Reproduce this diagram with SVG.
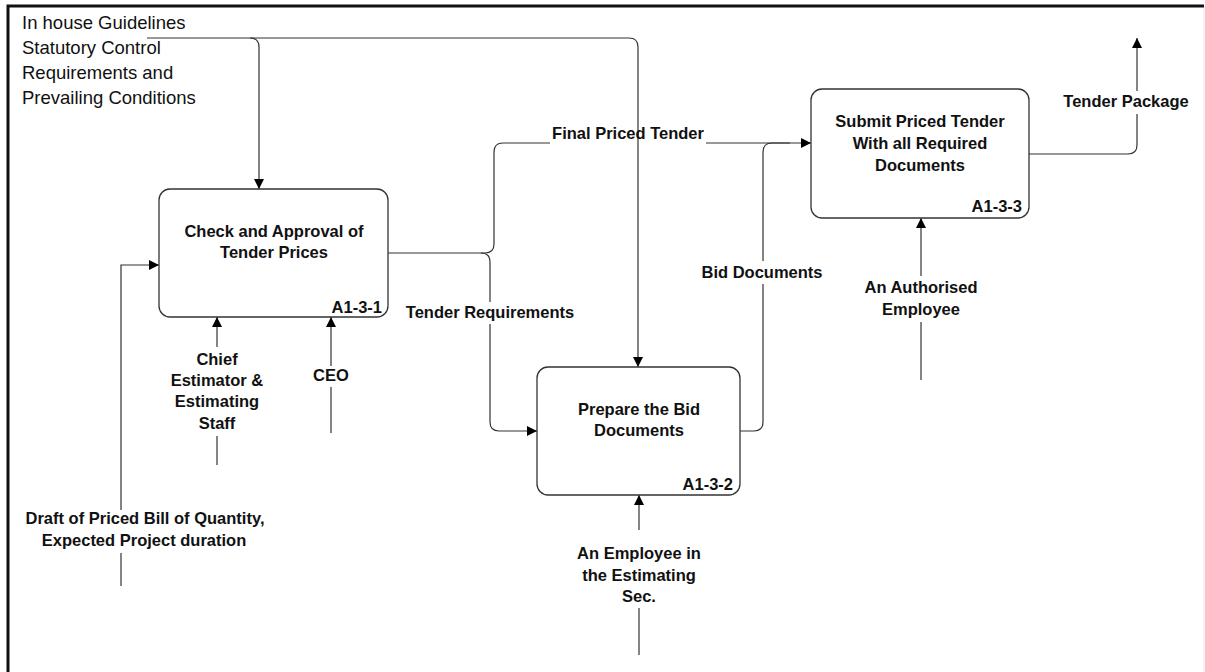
<svg xmlns="http://www.w3.org/2000/svg" width="1205" height="672" viewBox="0 0 1205 672">
<style>
.box{fill:#fff;stroke:#333;stroke-width:1.3}
.ln{fill:none;stroke:#333;stroke-width:1.2}
.t{font-family:"Liberation Sans",Arial,sans-serif;font-size:16.5px;font-weight:bold;fill:#111;text-anchor:middle}
.id{font-family:"Liberation Sans",Arial,sans-serif;font-size:16.5px;font-weight:bold;fill:#111;text-anchor:end}
.n{font-family:"Liberation Sans",Arial,sans-serif;font-size:18.5px;fill:#111}
</style>
<defs>
<marker id="ah" viewBox="0 0 10 10" refX="10" refY="5" markerWidth="10" markerHeight="10" markerUnits="userSpaceOnUse" orient="auto">
<path d="M0,0 L10,5 L0,10 Z" fill="#000"/>
</marker>
</defs>
<rect x="0" y="0" width="1205" height="672" fill="#fff"/>
<g id="frame">
<line x1="1204" y1="6" x2="1204" y2="672" stroke="#e6e6e6" stroke-width="1"/>
<path d="M8,672 V6 H1204" fill="none" stroke="#111" stroke-width="3"/>
</g>
<g id="connectors">
<path class="ln" d="M147,38 H250 Q259,38 259,47 V189" marker-end="url(#ah)"/>
<path class="ln" d="M250,38 H629 Q638,38 638,47 V367" marker-end="url(#ah)"/>
<path class="ln" d="M121,586 V553"/>
<path class="ln" d="M121,510 V265 H159" marker-end="url(#ah)"/>
<path class="ln" d="M388,253 H485 Q494,253 494,244 V152 Q494,143 503,143 H550"/>
<path class="ln" d="M706,143 H811" marker-end="url(#ah)"/>
<path class="ln" d="M481,253 Q490,253 490,262 V302"/>
<path class="ln" d="M490,324 V422 Q490,431 499,431 H537" marker-end="url(#ah)"/>
<path class="ln" d="M740,431 H754 Q763,431 763,422 V284"/>
<path class="ln" d="M763,261 V152 Q763,143 772,143 H790"/>
<path class="ln" d="M1029,154 H1128 Q1137,154 1137,145 V114"/>
<path class="ln" d="M1137,91 V38" marker-end="url(#ah)"/>
<path class="ln" d="M217,465 V436"/>
<path class="ln" d="M217,347 V317" marker-end="url(#ah)"/>
<path class="ln" d="M331,433 V387"/>
<path class="ln" d="M331,366 V317" marker-end="url(#ah)"/>
<path class="ln" d="M639,655 V608"/>
<path class="ln" d="M639,530 V495" marker-end="url(#ah)"/>
<path class="ln" d="M921,380 V322"/>
<path class="ln" d="M921,276 V218" marker-end="url(#ah)"/>
</g>
<g id="labels">
<text class="n" x="22" y="29">In house Guidelines</text>
<text class="n" x="22" y="54">Statutory Control</text>
<text class="n" x="22" y="79">Requirements and</text>
<text class="n" x="22" y="104">Prevailing Conditions</text>
<text class="t" x="145" y="524">Draft of Priced Bill of Quantity,</text>
<text class="t" x="144" y="546">Expected Project duration</text>
<text class="t" x="628" y="139">Final Priced Tender</text>
<text class="t" x="490" y="318">Tender Requirements</text>
<text class="t" x="762" y="278">Bid Documents</text>
<text class="t" x="1126" y="107">Tender Package</text>
<text class="t" x="217" y="365">Chief</text>
<text class="t" x="217" y="386">Estimator &amp;</text>
<text class="t" x="217" y="407">Estimating</text>
<text class="t" x="217" y="429">Staff</text>
<text class="t" x="331" y="381">CEO</text>
<text class="t" x="639" y="559">An Employee in</text>
<text class="t" x="639" y="581">the Estimating</text>
<text class="t" x="639" y="602">Sec.</text>
<text class="t" x="921" y="293">An Authorised</text>
<text class="t" x="921" y="315">Employee</text>
</g>
<g id="node-a131">
<rect class="box" x="159" y="189" width="229" height="128" rx="11"/>
<text class="t" x="274" y="237">Check and Approval of</text>
<text class="t" x="274" y="258">Tender Prices</text>
<text class="id" x="382" y="313">A1-3-1</text>
</g>
<g id="node-a132">
<rect class="box" x="537" y="367" width="203" height="128" rx="11"/>
<text class="t" x="639" y="415">Prepare the Bid</text>
<text class="t" x="639" y="436">Documents</text>
<text class="id" x="733" y="490">A1-3-2</text>
</g>
<g id="node-a133">
<rect class="box" x="811" y="89" width="218" height="129" rx="11"/>
<text class="t" x="920" y="127">Submit Priced Tender</text>
<text class="t" x="920" y="149">With all Required</text>
<text class="t" x="920" y="171">Documents</text>
<text class="id" x="1022" y="212">A1-3-3</text>
</g>
</svg>
